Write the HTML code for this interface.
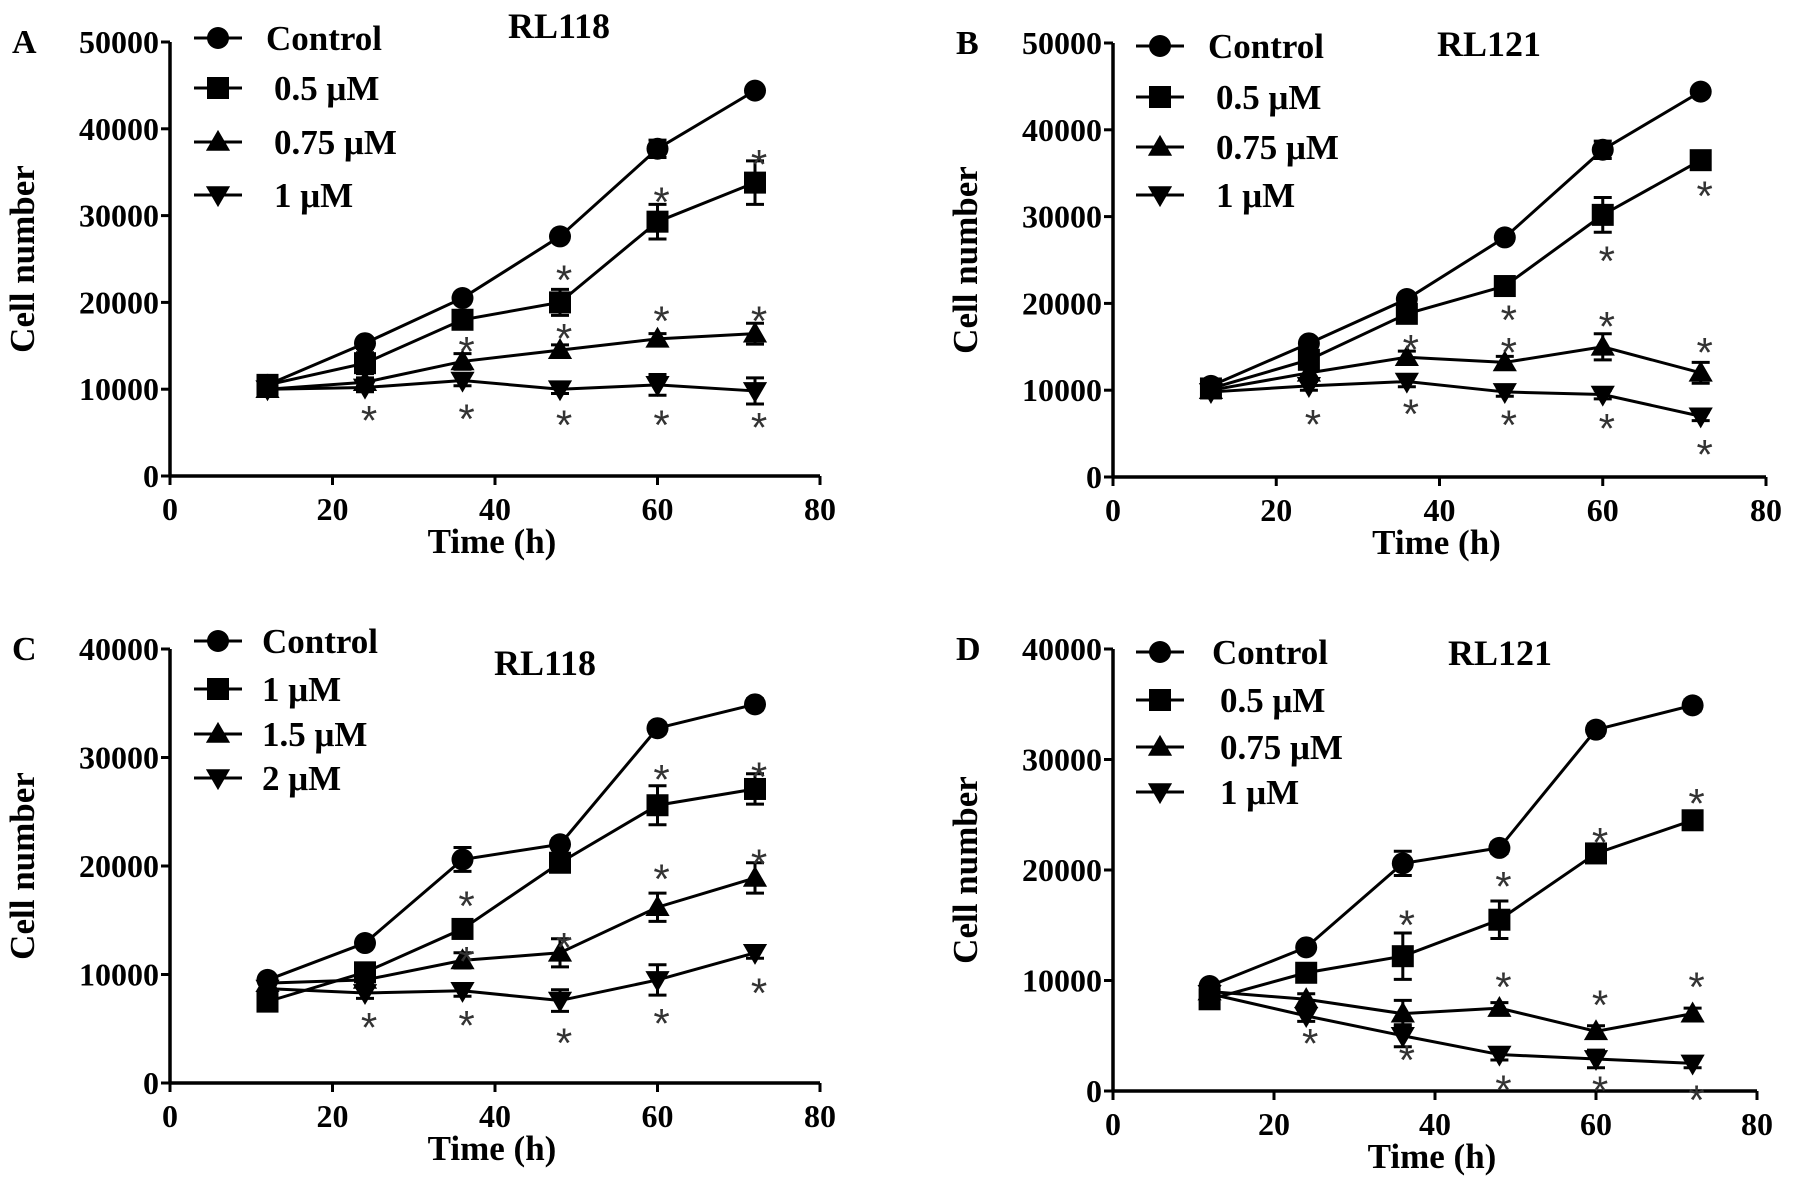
<!DOCTYPE html>
<html><head><meta charset="utf-8">
<style>
html,body{margin:0;padding:0;background:#fff;}
svg{display:block;font-family:"Liberation Serif",serif;font-weight:bold;}
</style></head>
<body>
<svg id="fig" width="1795" height="1196" viewBox="0 0 1795 1196" xmlns="http://www.w3.org/2000/svg"></svg>
<script>
const times = [12, 24, 36, 48, 60, 72];
const xTicks = [0, 20, 40, 60, 80];
const yTicksAB = [0, 10000, 20000, 30000, 40000, 50000];
const yTicksCD = [0, 10000, 20000, 30000, 40000];
const markers = ["circle", "square", "triangle", "invtriangle"];

const labelsA = ["Control", "0.5 μM", "0.75 μM", "1 μM"];
const seriesA = [
  [10500, 15300, 20500, 27600, 37700, 44400],
  [10500, 13000, 18000, 20000, 29300, 33800],
  [10000, 10800, 13200, 14500, 15800, 16400],
  [10000, 10200, 11000, 10000, 10500, 9800]];
const errA = [
  [500, 600, 600, 500, 1000, 500],
  [600, 1200, 800, 1500, 2000, 2500],
  [400, 500, 900, 600, 600, 1200],
  [400, 500, 600, 500, 1200, 1500]];
const starsA = [[72,36500],[60,32200],[48,23200],[36,15000],[48,16500],[60,18500],[72,18500],[24,7000],[36,7200],[48,6500],[60,6500],[72,6200]];

const labelsB = ["Control", "0.5 μM", "0.75 μM", "1 μM"];
const seriesB = [
  [10500, 15400, 20500, 27600, 37700, 44400],
  [10200, 13500, 18800, 22000, 30200, 36500],
  [10000, 12000, 13800, 13200, 15000, 12000],
  [9800, 10500, 11000, 9800, 9500, 7000]];
const errB = [
  [500, 600, 600, 500, 1000, 500],
  [500, 700, 700, 600, 2000, 600],
  [400, 500, 700, 700, 1500, 1200],
  [400, 500, 600, 500, 500, 500]];
const starsB = [[72,33000],[60,25500],[48,18700],[36,15300],[48,15000],[60,18000],[72,15000],[24,6700],[36,7900],[48,6600],[60,6200],[72,3200]];

const labelsC = ["Control", "1 μM", "1.5 μM", "2 μM"];
const seriesC = [
  [9500, 12900, 20600, 22000, 32700, 34900],
  [7500, 10200, 14200, 20300, 25600, 27100],
  [9200, 9500, 11300, 12000, 16200, 18900],
  [8700, 8300, 8500, 7600, 9500, 12000]];
const errC = [
  [400, 400, 1100, 500, 500, 500],
  [400, 600, 800, 600, 1800, 1400],
  [400, 500, 700, 1300, 1300, 1400],
  [400, 500, 500, 1000, 1400, 500]];
const starsC = [[60,28500],[72,28700],[36,16800],[48,13000],[60,19300],[72,20700],[36,11700],[24,5600],[36,5800],[48,4200],[60,6000],[72,8800]];

const labelsD = ["Control", "0.5 μM", "0.75 μM", "1 μM"];
const seriesD = [
  [9500, 13000, 20600, 22000, 32700, 34900],
  [8300, 10700, 12200, 15500, 21500, 24500],
  [9000, 8300, 7000, 7500, 5400, 7000],
  [8800, 6800, 5000, 3300, 2900, 2500]];
const errD = [
  [400, 400, 1100, 500, 500, 500],
  [400, 600, 2100, 1700, 600, 500],
  [400, 500, 1200, 500, 500, 500],
  [400, 500, 1000, 500, 800, 400]];
const starsD = [[72,26500],[60,23000],[48,19000],[36,15500],[48,9900],[60,8300],[72,9900],[24,4800],[36,3300],[48,600],[60,500],[72,-300]];

const NS = "http://www.w3.org/2000/svg";
const svg = document.getElementById("fig");
function mk(tag, attrs, parent) {
  const e = document.createElementNS(NS, tag);
  for (const k in attrs) e.setAttribute(k, attrs[k]);
  (parent || svg).appendChild(e);
  return e;
}
function marker(g, type, cx, cy, s) {
  let e;
  if (type === "circle") e = mk("circle", {cx: cx, cy: cy, r: s}, g);
  else if (type === "square") e = mk("rect", {x: cx - s, y: cy - s, width: 2 * s, height: 2 * s}, g);
  else if (type === "triangle") e = mk("polygon", {points: `${cx},${cy - s * 1.1} ${cx - s * 1.1},${cy + s * 0.8} ${cx + s * 1.1},${cy + s * 0.8}`}, g);
  else e = mk("polygon", {points: `${cx},${cy + s * 1.1} ${cx - s * 1.1},${cy - s * 0.8} ${cx + s * 1.1},${cy - s * 0.8}`}, g);
  e.setAttribute("fill", "#000");
  return e;
}

function panel(p) {
  const g = mk("g", {});
  
  
  const X = v => p.x0 + (v - 0) / 80 * (p.x1 - p.x0);
  const Y = v => p.y0 - v / p.ymax * (p.y0 - p.y1);
  const ya = mk("line", {x1: p.x0, y1: p.y0 + 1.5, x2: p.x0, y2: p.y1, stroke: "#000", "stroke-width": 3.5}, g);
  
  
  const xa = mk("line", {x1: p.x0 - 1.5, y1: p.y0, x2: p.x1, y2: p.y0, stroke: "#000", "stroke-width": 3.5}, g);
  
  
  p.yTicks.forEach(v => {
    mk("line", {x1: p.x0 - 9, y1: Y(v), x2: p.x0, y2: Y(v), stroke: "#000", "stroke-width": 3}, g);
    const t = mk("text", {x: p.x0 - 11, y: Y(v) + 11, "text-anchor": "end", "font-size": 32, textLength: v === 0 ? 16 : 80, lengthAdjust: "spacingAndGlyphs"}, g);
    t.textContent = v;
    
    
  });
  xTicks.forEach(v => {
    mk("line", {x1: X(v), y1: p.y0, x2: X(v), y2: p.y0 + 9, stroke: "#000", "stroke-width": 3}, g);
    const t = mk("text", {x: X(v), y: p.y0 + 44, "text-anchor": "middle", "font-size": 32}, g);
    t.textContent = v;
    
    
  });
  const xt = mk("text", {x: (p.x0 + p.x1) / 2 - 3, y: p.y0 + 77, "text-anchor": "middle", "font-size": 35}, g);
  xt.textContent = "Time (h)";
  
  
  const ycx = p.x0 - 136, ycy = (p.y0 + p.y1) / 2;
  const yt = mk("text", {x: ycx, y: ycy, "text-anchor": "middle", "font-size": 35, transform: `rotate(-90 ${ycx} ${ycy})`}, g);
  yt.textContent = "Cell number";
  
  
  const lt = mk("text", {x: p.letterX, y: p.y1 + 11, "font-size": 34}, g);
  lt.textContent = p.letter;
  
  
  const ti = mk("text", {x: p.titleX, y: p.titleY, "text-anchor": "middle", "font-size": 36}, g);
  ti.textContent = p.title;
  
  
  p.series.forEach((vals, si) => {
    const sg = mk("g", {}, g);
    
    
    const pts = vals.map((v, i) => X(times[i]) + "," + Y(v)).join(" ");
    mk("polyline", {points: pts, fill: "none", stroke: "#000", "stroke-width": 3}, sg);
    vals.forEach((v, i) => {
      const e = p.err[si][i], cx = X(times[i]);
      mk("line", {x1: cx, y1: Y(v - e), x2: cx, y2: Y(v + e), stroke: "#000", "stroke-width": 3}, sg);
      mk("line", {x1: cx - 9, y1: Y(v + e), x2: cx + 9, y2: Y(v + e), stroke: "#000", "stroke-width": 3}, sg);
      mk("line", {x1: cx - 9, y1: Y(v - e), x2: cx + 9, y2: Y(v - e), stroke: "#000", "stroke-width": 3}, sg);
      const m = marker(sg, markers[si], cx, Y(v), 11);
      
      
    });
  });
  p.stars.forEach(s => {
    const t = mk("text", {x: X(s[0]) + 4, y: Y(s[1]) + 20, "text-anchor": "middle", "font-size": 42, fill: "#333", "font-weight": "normal", "font-family": "Liberation Sans, sans-serif"}, g);
    t.textContent = "*";
    
    
  });
  p.labels.forEach((lab, i) => {
    const ly = p.legY[i];
    const lg = mk("g", {}, g);
    
    
    mk("line", {x1: p.legX - 24, y1: ly, x2: p.legX + 24, y2: ly, stroke: "#000", "stroke-width": 3}, lg);
    marker(lg, markers[i], p.legX, ly, 11);
    const t = mk("text", {x: p.legTX + (i > 0 && p.legShift ? 8 : 0), y: ly + 12, "font-size": 35}, lg);
    t.textContent = lab;
  });
}

panel({letter: "A", letterX: 12, title: "RL118", titleX: 559, titleY: 38, x0: 170, x1: 820, y0: 476, y1: 42, ymax: 50000, yTicks: yTicksAB,
  series: seriesA, err: errA, stars: starsA, labels: labelsA, legX: 218, legTX: 266, legY: [38, 88, 142, 195], legShift: true});
panel({letter: "B", letterX: 956, title: "RL121", titleX: 1489, titleY: 56, x0: 1113, x1: 1766, y0: 477, y1: 43, ymax: 50000, yTicks: yTicksAB,
  series: seriesB, err: errB, stars: starsB, labels: labelsB, legX: 1160, legTX: 1208, legY: [46, 97, 147, 195], legShift: true});
panel({letter: "C", letterX: 12, title: "RL118", titleX: 545, titleY: 675, x0: 170, x1: 820, y0: 1083, y1: 649, ymax: 40000, yTicks: yTicksCD,
  series: seriesC, err: errC, stars: starsC, labels: labelsC, legX: 218, legTX: 262, legY: [641, 689, 734, 778], legShift: false});
panel({letter: "D", letterX: 956, title: "RL121", titleX: 1500, titleY: 665, x0: 1113, x1: 1757, y0: 1091, y1: 649, ymax: 40000, yTicks: yTicksCD,
  series: seriesD, err: errD, stars: starsD, labels: labelsD, legX: 1160, legTX: 1212, legY: [652, 700, 747, 792], legShift: true});
</script>
</body></html>
